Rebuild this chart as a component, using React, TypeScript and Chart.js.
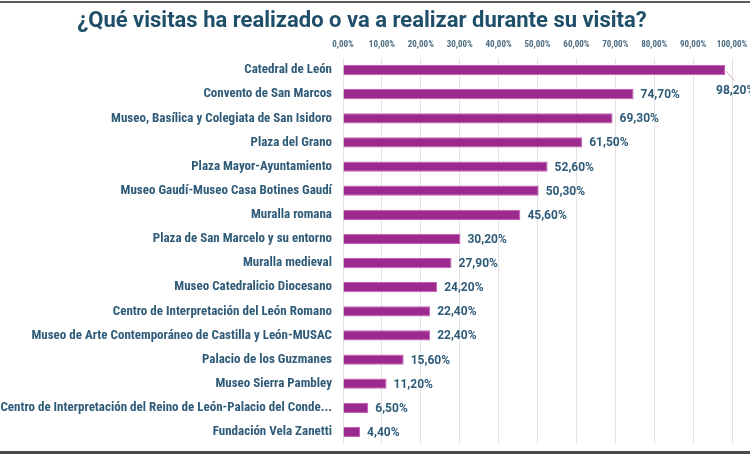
import React, { useEffect, useRef } from "react";
import { Chart, registerables } from "chart.js";

Chart.register(...registerables);

const title = "¿Qué visitas ha realizado o va a realizar durante su visita?";

const categories = [
  "Catedral de León",
  "Convento de San Marcos",
  "Museo, Basílica y Colegiata de San Isidoro",
  "Plaza del Grano",
  "Plaza Mayor-Ayuntamiento",
  "Museo Gaudí-Museo Casa Botines Gaudí",
  "Muralla romana",
  "Plaza de San Marcelo y su entorno",
  "Muralla medieval",
  "Museo Catedralicio Diocesano",
  "Centro de Interpretación del León Romano",
  "Museo de Arte Contemporáneo de Castilla y León-MUSAC",
  "Palacio de los Guzmanes",
  "Museo Sierra Pambley",
  "Centro de Interpretación del Reino de León-Palacio del Conde...",
  "Fundación Vela Zanetti",
];

const values = [98.2, 74.7, 69.3, 61.5, 52.6, 50.3, 45.6, 30.2, 27.9, 24.2, 22.4, 22.4, 15.6, 11.2, 6.5, 4.4];

const axisMin = 0;
const axisMax = 100;
const axisStep = 10;

const NARROW = "'Liberation Sans Narrow', 'Roboto Condensed', 'DejaVu Sans Condensed', Roboto, sans-serif";
const WIDE = "Roboto, 'Liberation Sans', sans-serif";
const LABEL_COLOR = "#2f5b78";
const BAR_COLOR = "#9c2a8e";

const fmt = (v: number) => v.toFixed(2).replace(".", ",") + "%";

const valueLabels = {
  id: "valueLabels",
  afterDatasetsDraw(chart: any) {
    const ctx = chart.ctx;
    const meta = chart.getDatasetMeta(0);
    ctx.save();
    ctx.font = `bold 12px ${WIDE}`;
    ctx.fillStyle = LABEL_COLOR;
    ctx.textBaseline = "middle";
    ctx.textAlign = "left";
    meta.data.forEach((bar: any, i: number) => {
      const v = values[i];
      if (i === 0) {
        ctx.strokeStyle = "#d9a6cf";
        ctx.lineWidth = 1;
        ctx.beginPath();
        ctx.moveTo(bar.x + 1, bar.y + 1);
        ctx.lineTo(bar.x + 10, bar.y + 11);
        ctx.stroke();
        ctx.fillText(fmt(v), bar.x - 9, bar.y + 21);
      } else {
        ctx.fillText(fmt(v), bar.x + 7, bar.y + 1);
      }
    });
    ctx.restore();
  },
};

export default function App() {
  const ref = useRef<HTMLCanvasElement | null>(null);
  useEffect(() => {
    document.body.style.margin = "0";
    const chart = new Chart(ref.current as HTMLCanvasElement, {
      type: "bar",
      data: {
        labels: categories,
        datasets: [
          {
            data: values,
            backgroundColor: BAR_COLOR,
            borderColor: "#c35fb4",
            borderWidth: 1,
            barPercentage: 0.42,
            categoryPercentage: 1,
          },
        ],
      },
      options: {
        indexAxis: "y",
        animation: false,
        responsive: false,
        devicePixelRatio: 1,
        layout: { padding: { top: 36, bottom: 10, right: 18, left: 0 } },
        plugins: {
          legend: { display: false },
          tooltip: { enabled: false },
          title: { display: false },
        },
        scales: {
          x: {
            position: "top",
            min: axisMin,
            max: axisMax,
            ticks: {
              stepSize: axisStep,
              callback: (v: any) => fmt(Number(v)),
              font: { family: NARROW, size: 9, weight: "bold" },
              color: "#4d6c82",
              padding: 8,
              maxRotation: 0,
            },
            grid: { color: "#e3e3e3", drawTicks: false },
            border: { display: false },
            afterFit: (s: any) => {
              s.height = 22;
              s.paddingLeft = 0;
              s.paddingRight = 0;
            },
          },
          y: {
            ticks: {
              font: { family: NARROW, size: 13, weight: "bold" },
              color: LABEL_COLOR,
              padding: 11,
              autoSkip: false,
            },
            grid: { display: false, drawTicks: false },
            border: { display: false },
            afterFit: (s: any) => {
              s.width = 343;
              s.paddingTop = 0;
              s.paddingBottom = 0;
            },
          },
        },
      },
      plugins: [valueLabels],
    });
    return () => chart.destroy();
  }, []);

  return (
    <div style={{ position: "relative", width: 750, height: 454, background: "#fff", overflow: "hidden" }}>
      <canvas ref={ref} width={750} height={454} style={{ display: "block" }} />
      <div
        style={{
          position: "absolute",
          left: 0,
          top: 7,
          width: 724,
          textAlign: "center",
          fontFamily: WIDE,
          fontWeight: "bold",
          fontSize: 22,
          lineHeight: "26px",
          color: "#1f4f68",
        }}
      >
        {title}
      </div>
      <div style={{ position: "absolute", left: 0, top: 1, width: 750, height: 2, background: "#5a5a5a" }} />
      <div style={{ position: "absolute", left: 0, top: 451, width: 750, height: 3, background: "#4a4a4a" }} />
    </div>
  );
}
